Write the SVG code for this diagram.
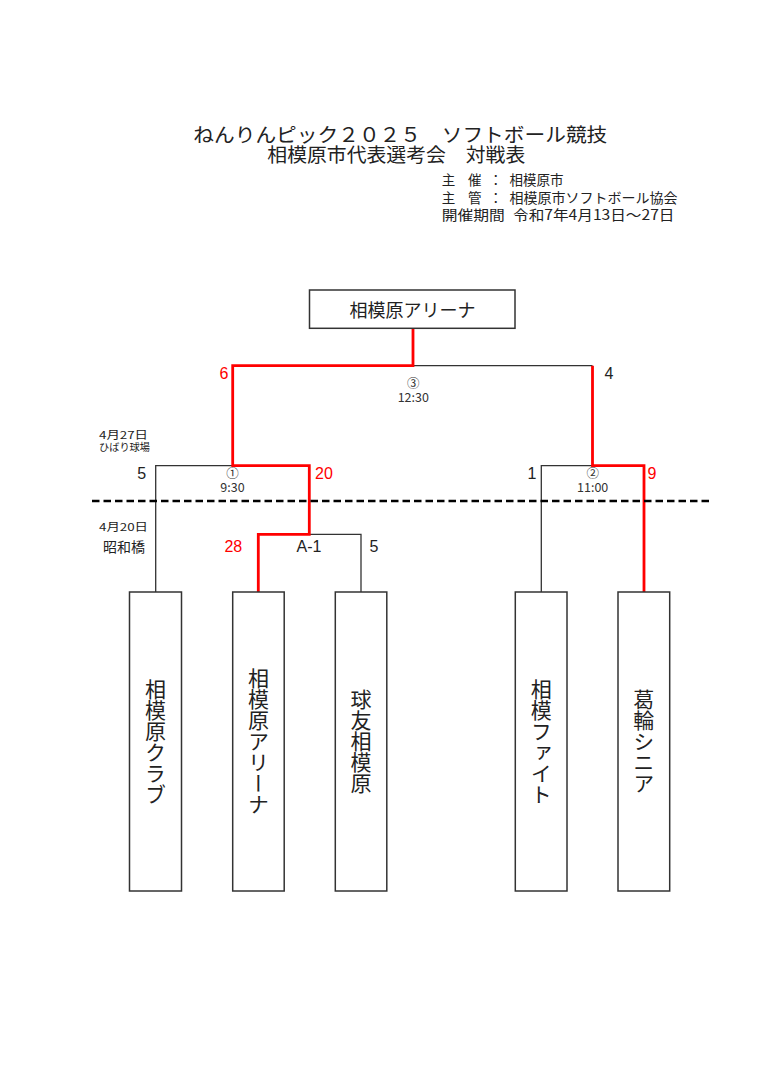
<svg xmlns="http://www.w3.org/2000/svg" width="768" height="1086" viewBox="0 0 768 1086">
<style>
.jp{font-family:"Noto Sans CJK JP","Noto Sans CJK SC",sans-serif;fill:#222}
.num{font-family:"Liberation Sans","Noto Sans",sans-serif;font-size:16px;text-anchor:middle}
.blk{fill:#222}
.red{fill:#ff0000}
.box{fill:#fff;stroke:#333;stroke-width:1.5}
.team{font-family:"Noto Sans CJK JP","Noto Sans CJK SC",sans-serif;font-size:21px;fill:#222;writing-mode:vertical-rl;text-anchor:middle}
.bl{fill:none;stroke:#333;stroke-width:1.3}
.rl{fill:none;stroke:#ff0000;stroke-width:2.8}
.small{font-family:"Noto Sans CJK JP","Noto Sans CJK SC",sans-serif;fill:#333;text-anchor:middle}
</style>
<rect width="768" height="1086" fill="#fff"/>
<g id="header">
<text class="jp" x="193.3" y="141.5" font-size="19.5" textLength="414" lengthAdjust="spacingAndGlyphs">ねんりんピック２０２５　ソフトボール競技</text>
<text class="jp" x="267.3" y="162" font-size="19.5" textLength="258" lengthAdjust="spacingAndGlyphs">相模原市代表選考会　対戦表</text>
<text class="jp" font-size="13.5" y="185"><tspan x="441.7">主</tspan><tspan x="468">催</tspan><tspan x="489">：</tspan><tspan x="509.5">相模原市</tspan></text>
<text class="jp" font-size="13.5" y="202.5"><tspan x="441.7">主</tspan><tspan x="468">管</tspan><tspan x="489">：</tspan></text>
<text class="jp" font-size="13.5" x="509.5" y="202.5" textLength="168" lengthAdjust="spacingAndGlyphs">相模原市ソフトボール協会</text>
<text class="jp" font-size="14" x="441.7" y="220" textLength="63" lengthAdjust="spacingAndGlyphs">開催期間</text>
<text class="jp" font-size="14" x="513" y="220" textLength="161.5" lengthAdjust="spacingAndGlyphs">令和7年4月13日～27日</text>
</g>
<g id="labels">
<text class="jp" font-size="11" x="99" y="439" textLength="49" lengthAdjust="spacingAndGlyphs">4月27日</text>
<text class="jp" font-size="10" x="99" y="451" textLength="51" lengthAdjust="spacingAndGlyphs">ひばり球場</text>
<text class="jp" font-size="11" x="99" y="531" textLength="49" lengthAdjust="spacingAndGlyphs">4月20日</text>
<text class="jp" font-size="13.5" x="103" y="551.7" textLength="42" lengthAdjust="spacingAndGlyphs">昭和橋</text>
</g>
<g id="connectors">
<path class="bl" d="M155.7 592 V465.7 H233"/>
<path class="bl" d="M309.3 534.3 H361 V592"/>
<path class="bl" d="M413 365.7 H592.5"/>
<path class="bl" d="M541.3 592 V465.7 H592.5"/>
<path class="rl" d="M413 328.3 V365.7 H232.7 V465.7 H309.3 V534.3 H258.3 V592"/>
<path class="rl" d="M592.5 365.7 V465.7 H644 V592"/>
<path d="M92 501 H710" stroke="#000" stroke-width="2.7" stroke-dasharray="7.5 4" fill="none"/>
</g>
<g id="match-final">
<text class="small" x="413.3" y="387.5" font-size="12.5">③</text>
<text class="small" x="413.3" y="402" font-size="12.5">12:30</text>
<text class="num red" x="224" y="379">6</text>
<text class="num blk" x="609" y="379">4</text>
</g>
<g id="match-1">
<text class="small" x="232.5" y="477.5" font-size="12.5">①</text>
<text class="small" x="232.5" y="492" font-size="12.5">9:30</text>
<text class="num blk" x="141.7" y="479">5</text>
<text class="num red" x="324" y="479">20</text>
</g>
<g id="match-2">
<text class="small" x="592.7" y="477.5" font-size="12.5">②</text>
<text class="small" x="592.7" y="492" font-size="12.5">11:00</text>
<text class="num blk" x="532" y="479">1</text>
<text class="num red" x="652" y="479">9</text>
</g>
<g id="match-a1">
<text class="num red" x="233.3" y="551.7">28</text>
<text class="num blk" x="309" y="551.7" font-size="15">A-1</text>
<text class="num blk" x="374" y="551.7">5</text>
</g>
<g id="winner">
<rect class="box" x="309.5" y="290" width="205.5" height="38.3"/>
<text class="jp" x="412.5" y="316.7" font-size="18" text-anchor="middle">相模原アリーナ</text>
</g>
<g id="team-1">
<rect class="box" x="129.5" y="592" width="52" height="299"/>
<text class="team" x="155.5" y="741.5">相模原クラブ</text>
</g>
<g id="team-2">
<rect class="box" x="232.7" y="592" width="51.5" height="299"/>
<text class="team" x="258.4" y="741.5">相模原アリーナ</text>
</g>
<g id="team-3">
<rect class="box" x="335.3" y="592" width="51.5" height="299"/>
<text class="team" x="361" y="741.5">球友相模原</text>
</g>
<g id="team-4">
<rect class="box" x="515.3" y="592" width="51.7" height="299"/>
<text class="team" x="541.2" y="741.5">相模ファイト</text>
</g>
<g id="team-5">
<rect class="box" x="618" y="592" width="51.7" height="299"/>
<text class="team" x="643.8" y="741.5">葛輪シニア</text>
</g>
</svg>
